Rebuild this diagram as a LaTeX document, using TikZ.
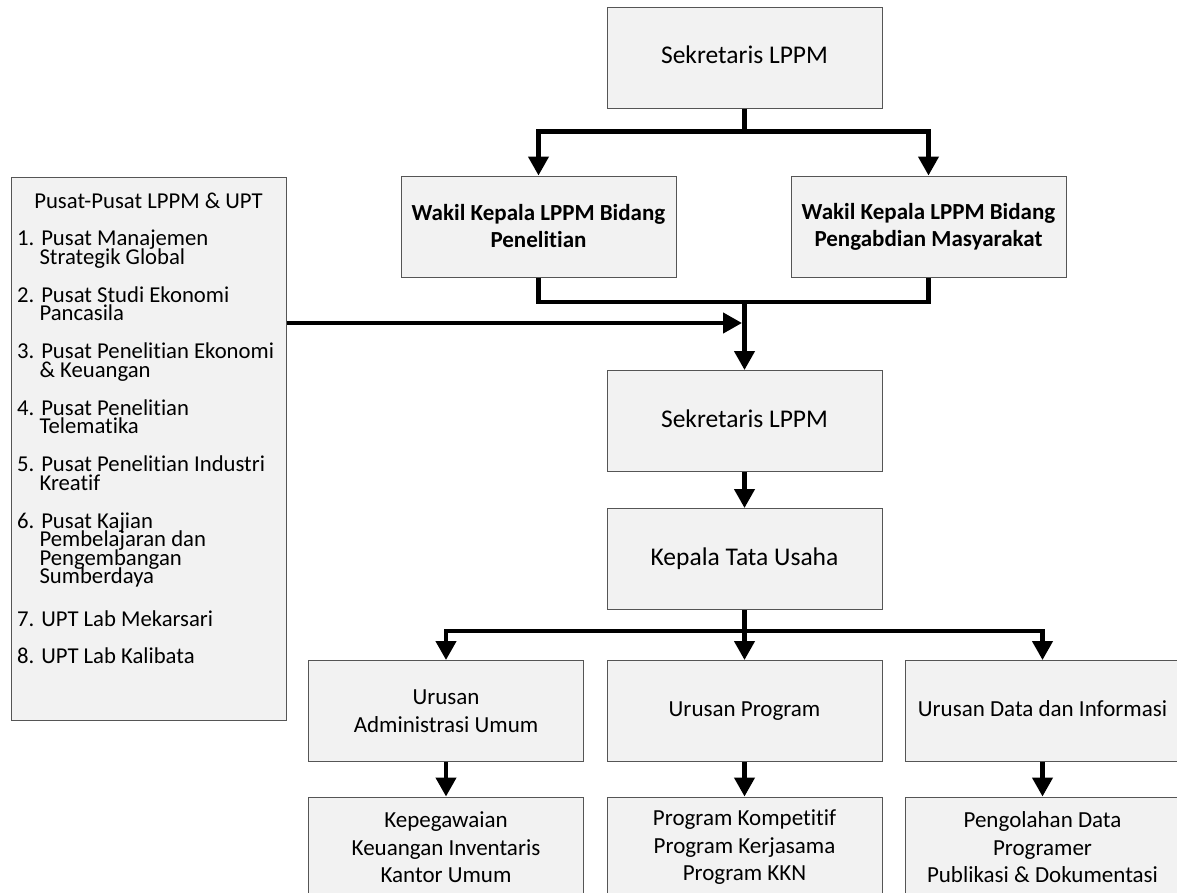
\documentclass[tikz,border=0pt]{standalone}
\usepackage{fontspec}
\setmainfont[Ligatures=NoCommon]{Carlito}
\usetikzlibrary{arrows.meta}
\definecolor{boxfill}{HTML}{F2F2F2}
\definecolor{boxline}{HTML}{555555}
\newcommand\tightlines{\lineskiplimit=-100pt\relax\lineskip=0pt\relax}

\begin{document}
\begin{tikzpicture}[x=1pt,y=-1pt,
  box/.style={draw=boxline, fill=boxfill, line width=1pt,
    minimum width=275pt, minimum height=101pt, inner sep=0pt,
    align=center, font=\fontsize{23}{27.5}\selectfont},
  bigbox/.style={box, font=\fontsize{25.5}{30}\selectfont},
  boldbox/.style={box, font=\fontsize{23}{27}\selectfont\bfseries},
  listtext/.style={inner sep=0pt, font=\fontsize{22.7}{18.5}\selectfont\tightlines},
  conn/.style={line width=4.3pt, black},
  arr/.style={conn, -{Triangle[width=20pt,length=19pt]}},
]
\useasboundingbox (0,0) rectangle (1177,892);
\clip (0,0) rectangle (1177,892);

% upper level
\node[bigbox] (sek) at (744.5,57.5) {\strut Sekretaris LPPM};
\node[boldbox] (wkP) at (538.5,226.5) {Wakil Kepala LPPM Bidang\\Penelitian};
\node[boldbox] (wkM) at (928.5,226.5) {Wakil Kepala LPPM Bidang\\Pengabdian Masyarakat};

% centres and units
\node[box, minimum height=543pt] (pusat) at (148.5,448.5) {};
\node[listtext, anchor=north] (pusatT) at (148.5,193) {Pusat-Pusat LPPM \& UPT};
\node[listtext, anchor=north west, align=left] (pusatL) at (17,230) {%
1. Pusat Manajemen\\ \hphantom{1.\ }Strategik Global\\[19.5pt]
2. Pusat Studi Ekonomi\\ \hphantom{1.\ }Pancasila\\[19.5pt]
3. Pusat Penelitian Ekonomi\\ \hphantom{1.\ }\& Keuangan\\[19.5pt]
4. Pusat Penelitian\\ \hphantom{1.\ }Telematika\\[19.5pt]
5. Pusat Penelitian Industri\\ \hphantom{1.\ }Kreatif\\[19.5pt]
6. Pusat Kajian\\ \hphantom{1.\ }Pembelajaran dan\\ \hphantom{1.\ }Pengembangan\\ \hphantom{1.\ }Sumberdaya\\[24.5pt]
7. UPT Lab Mekarsari\\[18.5pt]
8. UPT Lab Kalibata};

% middle level
\node[bigbox] (sek2) at (744.5,421) {\strut Sekretaris LPPM};
\node[bigbox] (kep) at (744.5,559) {\strut Kepala Tata Usaha};

% sections
\node[box] (ur1) at (446,711) {Urusan\\Administrasi Umum};
\node[box] (ur2) at (744.5,711) {\strut Urusan Program};
\node[box] (ur3) at (1042.5,711) {\strut Urusan Data dan Informasi};

\node[box] (bt1) at (446,847.5) {Kepegawaian\\Keuangan Inventaris\\Kantor Umum};
\node[box] (bt2) at (744.5,847.5) {Program Kompetitif\\Program Kerjasama\\Program KKN};
\node[box] (bt3) at (1042.5,847.5) {Pengolahan Data\\Programer\\Publikasi \& Dokumentasi};

% connectors
\draw[conn] (sek.south) -- ++(0,23) coordinate (j1);
\draw[arr] (j1) -| (wkP.north);
\draw[arr] (j1) -| (wkM.north);

\coordinate (j2) at (744.5,302);
\draw[conn] (wkP.south) |- (j2) -| (wkM.south);
\draw[arr] (j2) -- (sek2.north);

\coordinate (j3) at (742,323);
\draw[arr] (pusat.east |- j3) -- (j3);

\draw[arr] (sek2.south) -- (kep.north);

\draw[conn] (kep.south) -- (kep.south |- 0,631) coordinate (j4);
\draw[arr] (j4) -| (ur1.north);
\draw[arr] (j4) -- (ur2.north);
\draw[arr] (j4) -| (ur3.north);

\draw[arr] (ur1.south) -- (bt1.north);
\draw[arr] (ur2.south) -- (bt2.north);
\draw[arr] (ur3.south) -- (bt3.north);
\end{tikzpicture}
\end{document}
